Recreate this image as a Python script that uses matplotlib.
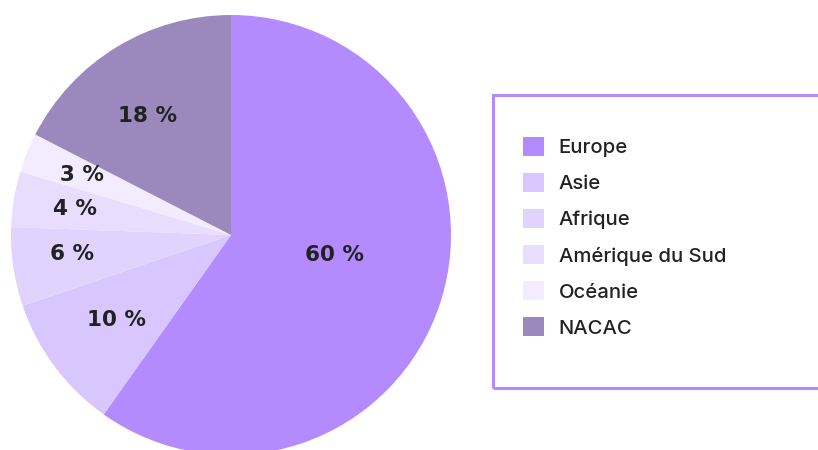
import numpy as np
import matplotlib
matplotlib.use("Agg")
import matplotlib.pyplot as plt
from matplotlib.patches import Rectangle, Patch

categories = ["Europe", "Asie", "Afrique", "Amérique du Sud", "Océanie", "NACAC"]
values = [60.0, 10.0, 5.8, 4.1, 2.9, 17.5]
labels = ["60 %", "10 %", "6 %", "4 %", "3 %", "18 %"]
colors = ["#b38bff", "#d9c6fe", "#e1d2fe", "#e9ddfe", "#f2ecfe", "#9b89bd"]

label_r = [0.48, 0.65, 0.73, 0.72, 0.73, 0.66]
label_da = [7, 0, -1.4, 0, 0, 3.5]

W, H = 818, 450
fig = plt.figure(figsize=(W / 100, H / 100), dpi=100)
cx, cy, r = 231, 235, 220
ax = fig.add_axes([(cx - r) / W, (H - cy - r) / H, 2 * r / W, 2 * r / H])
wedges, _ = ax.pie(values, colors=colors, startangle=90, counterclock=False,
                   radius=1, wedgeprops=dict(linewidth=0))
ax.set_xlim(-1, 1)
ax.set_ylim(-1, 1)
ax.set_aspect("equal")
ax.axis("off")

for w, lab, lr, da in zip(wedges, labels, label_r, label_da):
    mid = np.deg2rad((w.theta1 + w.theta2) / 2 + da)
    ax.text(lr * np.cos(mid), lr * np.sin(mid), lab, ha="center", va="center",
            fontsize=15.5, fontweight="bold", family=["DejaVu Sans"],
            color="#222222")

# legend box
fig.patches.append(Rectangle((493 / W, (H - 388) / H), 340 / W, (388 - 95) / H,
                             transform=fig.transFigure, fill=False,
                             edgecolor="#b38bff", linewidth=2.2))
handles = [Patch(facecolor=c, edgecolor="none") for c in colors]
fs = 14.6
leg = fig.legend(handles, categories, loc="upper left",
                 bbox_to_anchor=(523 / W, (H - 137) / H), frameon=False,
                 prop=dict(family=["Inter", "DejaVu Sans"], size=fs, weight="medium"),
                 handlelength=1.04, handleheight=1.04, handletextpad=0.72,
                 labelspacing=0.78, borderpad=0, borderaxespad=0)
for t in leg.get_texts():
    t.set_color("#222222")

fig.savefig("out.png", dpi=100)
